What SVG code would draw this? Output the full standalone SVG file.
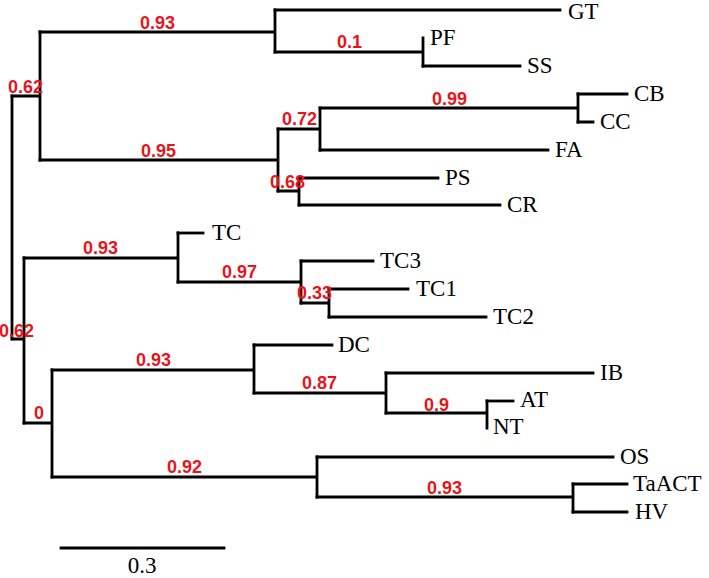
<svg xmlns="http://www.w3.org/2000/svg" width="709" height="578" viewBox="0 0 709 578">
<style>
.br{fill:none;stroke:#000;stroke-width:2.8;stroke-linecap:square;stroke-linejoin:miter}
.lf{font-family:"Liberation Serif","Times New Roman",serif;font-size:23px;fill:#000}
.bs{font-family:"Liberation Sans",Arial,sans-serif;font-size:18px;font-weight:bold;fill:#e8141c}
</style>
<rect width="709" height="578" fill="#fff"/>
<g id="connectors">
<path class="br" d="M12,96 V339"/>
<path class="br" d="M12,96 H40 M40,32 V160"/>
<path class="br" d="M12,339 H24 M24,258 V423"/>
<path class="br" d="M40,32 H275 M275,10 V52"/>
<path class="br" d="M275,10 H560"/>
<path class="br" d="M275,52 H423 M423,38 V66"/>
<path class="br" d="M423,66 H520"/>
<path class="br" d="M40,160 H278 M278,129 V191"/>
<path class="br" d="M278,129 H320 M320,108 V150"/>
<path class="br" d="M320,108 H578 M578,94 V122"/>
<path class="br" d="M578,94 H627 M578,122 H593"/>
<path class="br" d="M320,150 H548"/>
<path class="br" d="M278,191 H299 M299,178 V205"/>
<path class="br" d="M299,178 H438 M299,205 H500"/>
<path class="br" d="M24,258 H178 M178,233 V282"/>
<path class="br" d="M178,233 H203"/>
<path class="br" d="M178,282 H301 M301,261 V303"/>
<path class="br" d="M301,261 H373"/>
<path class="br" d="M301,303 H329 M329,289 V317"/>
<path class="br" d="M329,289 H408 M329,317 H486"/>
<path class="br" d="M24,423 H52 M52,370 V477"/>
<path class="br" d="M52,370 H254 M254,345 V393"/>
<path class="br" d="M254,345 H332"/>
<path class="br" d="M254,393 H386 M386,373 V413"/>
<path class="br" d="M386,373 H593"/>
<path class="br" d="M386,413 H487 M487,401 V428"/>
<path class="br" d="M487,401 H513"/>
<path class="br" d="M52,477 H317 M317,457 V497"/>
<path class="br" d="M317,457 H613"/>
<path class="br" d="M317,497 H573 M573,484 V512"/>
<path class="br" d="M573,484 H627 M573,512 H627"/>
</g>
<g id="n-root"><text class="bs" x="8" y="93">0.62</text></g>
<g id="n-A"><text class="bs" x="140" y="29">0.93</text></g>
<g id="n-D"><text class="bs" x="337" y="48">0.1</text></g>
<g id="n-E"><text class="bs" x="141" y="157">0.95</text></g>
<g id="n-F"><text class="bs" x="282" y="125">0.72</text></g>
<g id="n-G"><text class="bs" x="432" y="105">0.99</text></g>
<g id="n-H"><text class="bs" x="270" y="188">0.68</text></g>
<g id="n-B"><text class="bs" x="-1" y="337">0.62</text></g>
<g id="n-I"><text class="bs" x="83" y="254">0.93</text></g>
<g id="n-J"><text class="bs" x="222" y="278">0.97</text></g>
<g id="n-K"><text class="bs" x="297" y="299">0.33</text></g>
<g id="n-L"><text class="bs" x="34" y="419">0</text></g>
<g id="n-M"><text class="bs" x="136" y="366">0.93</text></g>
<g id="n-N"><text class="bs" x="302" y="389">0.87</text></g>
<g id="n-O"><text class="bs" x="424" y="411">0.9</text></g>
<g id="n-P"><text class="bs" x="167" y="473">0.92</text></g>
<g id="n-Q"><text class="bs" x="427" y="494">0.93</text></g>
<g id="leaf-GT"><text class="lf" x="568" y="19">GT</text></g>
<g id="leaf-PF"><text class="lf" x="430" y="45">PF</text></g>
<g id="leaf-SS"><text class="lf" x="527" y="73">SS</text></g>
<g id="leaf-CB"><text class="lf" x="634" y="101">CB</text></g>
<g id="leaf-CC"><text class="lf" x="600" y="129">CC</text></g>
<g id="leaf-FA"><text class="lf" x="555" y="157">FA</text></g>
<g id="leaf-PS"><text class="lf" x="445" y="185">PS</text></g>
<g id="leaf-CR"><text class="lf" x="507" y="212">CR</text></g>
<g id="leaf-TC"><text class="lf" x="212" y="240">TC</text></g>
<g id="leaf-TC3"><text class="lf" x="380" y="268">TC3</text></g>
<g id="leaf-TC1"><text class="lf" x="416" y="296">TC1</text></g>
<g id="leaf-TC2"><text class="lf" x="493" y="324">TC2</text></g>
<g id="leaf-DC"><text class="lf" x="338" y="352">DC</text></g>
<g id="leaf-IB"><text class="lf" x="600" y="380">IB</text></g>
<g id="leaf-AT"><text class="lf" x="520" y="407">AT</text></g>
<g id="leaf-NT"><text class="lf" x="493" y="434">NT</text></g>
<g id="leaf-OS"><text class="lf" x="620" y="464">OS</text></g>
<g id="leaf-TaACT"><text class="lf" x="633" y="491">TaACT</text></g>
<g id="leaf-HV"><text class="lf" x="635" y="519">HV</text></g>
<g id="scalebar">
<path class="br" d="M61,548 H224"/>
<text class="lf" x="142" y="573" text-anchor="middle">0.3</text>
</g>
</svg>
